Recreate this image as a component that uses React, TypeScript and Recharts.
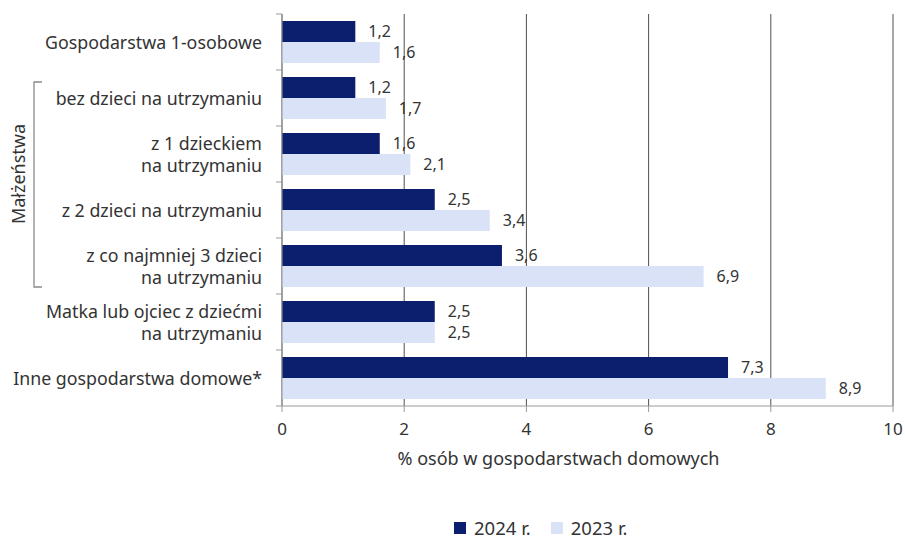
import { BarChart, Bar, XAxis, YAxis, CartesianGrid, Legend, LabelList } from 'recharts'

const categories = [
  'Gospodarstwa 1-osobowe',
  'bez dzieci na utrzymaniu',
  'z 1 dzieckiem\nna utrzymaniu',
  'z 2 dzieci na utrzymaniu',
  'z co najmniej 3 dzieci\nna utrzymaniu',
  'Matka lub ojciec z dziećmi\nna utrzymaniu',
  'Inne gospodarstwa domowe*',
]
const values2024 = [1.2, 1.2, 1.6, 2.5, 3.6, 2.5, 7.3]
const values2023 = [1.6, 1.7, 2.1, 3.4, 6.9, 2.5, 8.9]
const xTicks = [0, 2, 4, 6, 8, 10]
const seriesOrder = ['2024 r.', '2023 r.']
const groupLabel = 'Małżeństwa'
const groupFrom = 1
const groupTo = 4

const data = categories.map((name, i) => ({
  name,
  y2024: values2024[i],
  y2023: values2023[i],
}))

const WIDTH = 905
const HEIGHT = 540
const MARGIN = { top: 14, right: 12, bottom: 74, left: 0 }
const Y_AXIS_WIDTH = 282
const X_AXIS_HEIGHT = 60
const PLOT_H = HEIGHT - MARGIN.top - MARGIN.bottom - X_AXIS_HEIGHT
const BAND = PLOT_H / categories.length
const TICK_SIZE = 6
const TICK_MARGIN = 14

const FONT = '"Noto Sans", sans-serif'
const TEXT = '#333333'
const DARK = '#0b1f6e'
const LIGHT = '#d9e2f7'
const AXIS = '#9a9a9a'
const GRID = '#505050'

const fmt = (v: number) => v.toFixed(1).replace('.', ',')

function CategoryTick(props: any) {
  const { x, y, payload, index } = props
  const lines: string[] = String(payload.value).split('\n')
  const lh = 22
  const axisX = x + TICK_SIZE + TICK_MARGIN
  const first = -((lines.length - 1) * lh) / 2
  let bracket = null
  if (index === groupFrom) {
    const top = y - 16
    const bottom = y + (groupTo - groupFrom) * BAND + 21
    bracket = (
      <g>
        <path d={`M 42 ${top} L 34 ${top} L 34 ${bottom} L 42 ${bottom}`} fill="none" stroke="#8a8a8a" strokeWidth={1.3} />
        <text
          x={18}
          y={top + 92}
          transform={`rotate(-90 18 ${top + 92})`}
          textAnchor="middle"
          dominantBaseline="central"
          fontSize={18}
          fontFamily={FONT}
          fill={TEXT}
        >
          {groupLabel}
        </text>
      </g>
    )
  }
  return (
    <g>
      <line x1={axisX - TICK_SIZE} x2={axisX} y1={y - BAND / 2} y2={y - BAND / 2} stroke={AXIS} />
      {index === categories.length - 1 && (
        <line x1={axisX - TICK_SIZE} x2={axisX} y1={y + BAND / 2} y2={y + BAND / 2} stroke={AXIS} />
      )}
      <text x={x} y={y} textAnchor="end" fontSize={17.8} fontFamily={FONT} fill={TEXT}>
        {lines.map((l, i) => (
          <tspan key={i} x={x} dy={i === 0 ? first : lh} dominantBaseline="central">
            {l}
          </tspan>
        ))}
      </text>
      {bracket}
    </g>
  )
}

function LegendContent(props: any) {
  const items = [...(props.payload || [])].sort(
    (a: any, b: any) => seriesOrder.indexOf(a.value) - seriesOrder.indexOf(b.value)
  )
  return (
    <div style={{ display: 'flex', alignItems: 'center', gap: 20, fontSize: 18.5, fontFamily: FONT, color: TEXT, lineHeight: '24px', height: 24 }}>
      {items.map((it: any) => (
        <div key={it.value} style={{ display: 'flex', alignItems: 'center', whiteSpace: 'nowrap' }}>
          <span style={{ display: 'inline-block', width: 12, height: 12, background: it.color, marginRight: 8 }} />
          <span>{it.value}</span>
        </div>
      ))}
    </div>
  )
}

export default function App() {
  return (
    <div style={{ position: 'absolute', left: 0, top: 0, background: '#fff' }}>
      <BarChart
        width={WIDTH}
        height={HEIGHT}
        data={data}
        layout="vertical"
        margin={MARGIN}
        barCategoryGap="12.5%"
        barGap={0}
      >
        <CartesianGrid horizontal={false} stroke={GRID} strokeWidth={1} />
        <XAxis
          type="number"
          domain={[0, 10]}
          ticks={xTicks}
          height={X_AXIS_HEIGHT}
          tickSize={TICK_SIZE}
          tickMargin={11}
          stroke={AXIS}
          tick={{ fill: TEXT, fontSize: 17, fontFamily: FONT }}
          label={{
            content: (p: any) => {
              const vb = p.viewBox
              return (
                <text
                  x={vb.x + vb.width / 2 - 29}
                  y={vb.y + 59}
                  textAnchor="middle"
                  fontSize={18}
                  fontFamily={FONT}
                  fill={TEXT}
                >
                  % osób w gospodarstwach domowych
                </text>
              )
            },
          }}
        />
        <YAxis
          type="category"
          dataKey="name"
          width={Y_AXIS_WIDTH}
          tickLine={false}
          tickSize={TICK_SIZE}
          tickMargin={TICK_MARGIN}
          stroke={AXIS}
          interval={0}
          tick={<CategoryTick />}
        />
        <Legend
          layout="horizontal"
          verticalAlign="middle"
          align="center"
          content={<LegendContent />}
          wrapperStyle={{ top: 516, left: 454, width: 260, height: 24 }}
        />
        <Bar dataKey="y2024" name="2024 r." fill={DARK} isAnimationActive={false}>
          <LabelList dataKey="y2024" position="right" offset={13} formatter={(v: any) => fmt(Number(v))} fill={TEXT} fontSize={16} fontFamily={FONT} />
        </Bar>
        <Bar dataKey="y2023" name="2023 r." fill={LIGHT} isAnimationActive={false}>
          <LabelList dataKey="y2023" position="right" offset={13} formatter={(v: any) => fmt(Number(v))} fill={TEXT} fontSize={16} fontFamily={FONT} />
        </Bar>
      </BarChart>
    </div>
  )
}
